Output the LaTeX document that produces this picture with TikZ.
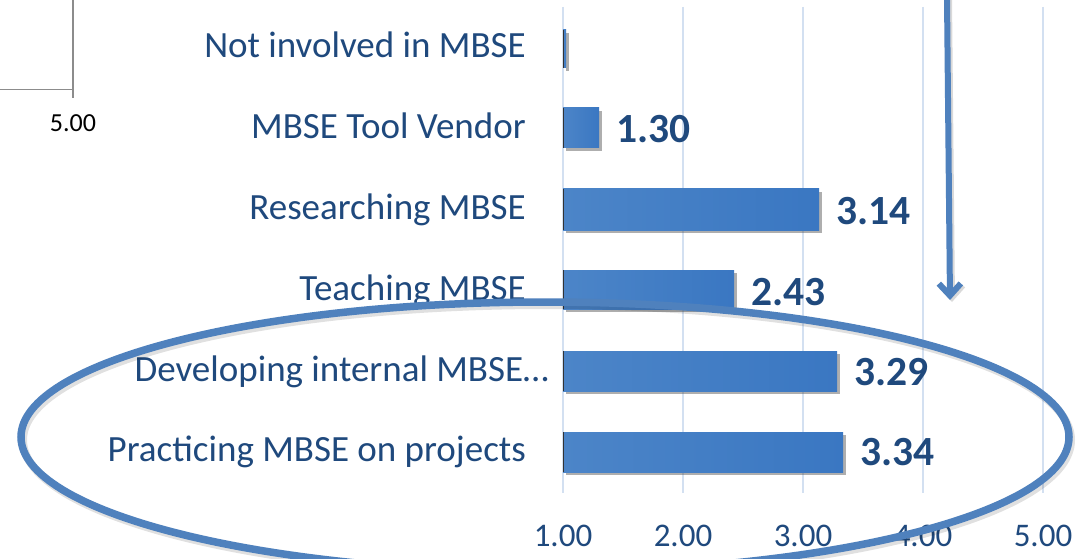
\documentclass[tikz,border=0pt]{standalone}
\usepackage{fontspec}
\setmainfont{Carlito}
\usetikzlibrary{arrows.meta,shadows}
\definecolor{dkblue}{HTML}{1F497D}
\definecolor{accblue}{HTML}{4F81BD}
\definecolor{barblue}{HTML}{3A77C2}
\definecolor{barlight}{HTML}{4C85C8}
\definecolor{gridblue}{HTML}{D3E0F1}
\definecolor{boxgray}{HTML}{8C8C8C}
\tikzset{
  gridline/.style={draw=gridblue, line width=1.5pt},
  barbox/.style={left color=barlight, right color=barblue,
    drop shadow={shadow xshift=3pt, shadow yshift=-3pt, fill=black!70, opacity=0.45}},
  baredge/.style={draw=black!80, line width=0.8pt},
  catlabel/.style={inner sep=0pt, anchor=base east, text=dkblue, font=\fontsize{37}{41}\selectfont},
  vallabel/.style={inner sep=0pt, anchor=base west, text=dkblue, font=\fontsize{41.5}{45}\selectfont\bfseries},
  ticklabel/.style={inner sep=0pt, anchor=base, text=dkblue, font=\fontsize{33}{36}\selectfont},
  smalllabel/.style={inner sep=0pt, anchor=base, text=black, font=\fontsize{26}{30}\selectfont},
  boxline/.style={draw=boxgray, line width=1.4pt},
  arrowline/.style={draw=accblue, line width=6pt, -{Straight Barb[length=12pt,width=22pt]}},
  arrowshadow/.style={draw=black, opacity=0.15, line width=6pt, -{Straight Barb[length=12pt,width=22pt]}},
  ringline/.style={draw=accblue, line width=7.5pt},
  ringshadow/.style={draw=black, opacity=0.12, line width=8pt},
}
\begin{document}
\begin{tikzpicture}[x=1pt,y=-1pt]
\useasboundingbox (0,0) rectangle (1077,559);
\fill[white] (0,0) rectangle (1077,559);
% top-left box fragment
\draw[boxline] (0,89.5) -- (73,89.5);
\draw[boxline] (73,0) -- (73,98);
\node[smalllabel] (topfive) at (73,132) {5.00};
% gridlines
\foreach \gx in {563,683,803,923,1043} {
  \draw[gridline] (\gx,7) -- (\gx,493);
}
% bars
\path[barbox] (563,30) rectangle (566,68);
\path[barbox] (563,108) rectangle (599,148);
\path[barbox] (563,189) rectangle (819,230);
\path[barbox] (563,270) rectangle (734,309);
\path[barbox] (563,351) rectangle (837,391);
\path[barbox] (563,432) rectangle (843,472);
\foreach \ya/\yb in {30/68,108/148,189/230,270/309,351/391,432/472} {
  \draw[baredge] (563.4,\ya) -- (563.4,\yb);
}
% category labels
\node[catlabel] (cNot) at (526,58) {Not involved in MBSE};
\node[catlabel] (cVendor) at (526,139) {MBSE Tool Vendor};
\node[catlabel] (cResearch) at (526,219) {Researching MBSE};
\node[catlabel] (cTeach) at (526,300) {Teaching MBSE};
\node[catlabel] (cDevelop) at (549,381) {Developing internal MBSE…};
\node[catlabel] (cPractice) at (526,461) {Practicing MBSE on projects};
% value labels
\node[vallabel] (vVendor) at (616,143) {1.30};
\node[vallabel] (vResearch) at (836,224) {3.14};
\node[vallabel] (vTeach) at (751,305) {2.43};
\node[vallabel] (vDevelop) at (854,385) {3.29};
\node[vallabel] (vPractice) at (860,465) {3.34};
% tick labels
\node[ticklabel] (t1) at (563,546) {1.00};
\node[ticklabel] (t2) at (683,546) {2.00};
\node[ticklabel] (t3) at (803,546) {3.00};
\node[ticklabel] (t4) at (923,546) {4.00};
\node[ticklabel] (t5) at (1043,546) {5.00};
% arrow
\coordinate (aS) at (947,-2);
\coordinate (aE) at (950,300);
\coordinate (aSs) at (949,-2);
\coordinate (aEs) at (952,302);
\draw[arrowshadow] (aSs) -- (aEs);
\draw[arrowline] (aS) -- (aE);
% ellipse
\draw[ringshadow] (547,440) ellipse [x radius=524pt, y radius=135pt];
\draw[ringline] (545,437) ellipse [x radius=524pt, y radius=135pt];
\end{tikzpicture}
\end{document}
